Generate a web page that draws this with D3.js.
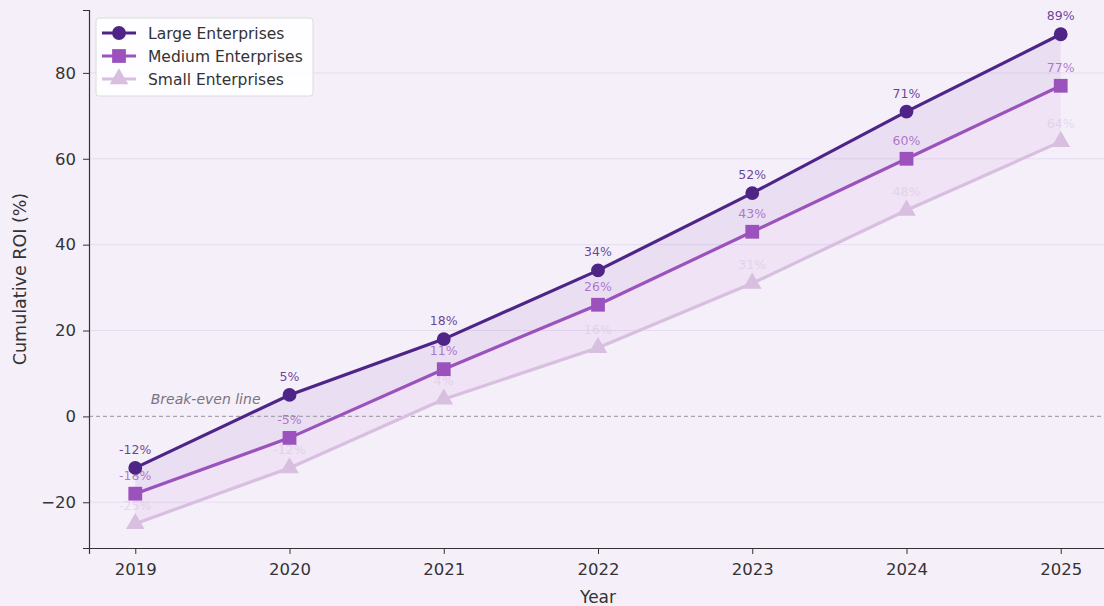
<!DOCTYPE html>
<html>
<head>
<meta charset="utf-8">
<script src="https://cdn.jsdelivr.net/npm/d3@7"></script>
<style>
  body { margin: 0; background: #f5effa; }
  svg { display: block; font-family: "DejaVu Sans", sans-serif; }
</style>
</head>
<body>
<div id="chart"></div>
<script>
// data
var years = [2019, 2020, 2021, 2022, 2023, 2024, 2025];
var large = [-12, 5, 18, 34, 52, 71, 89];
var medium = [-18, -5, 11, 26, 43, 60, 77];
var small = [-25, -12, 4, 16, 31, 48, 64];
var seriesNames = ["Large Enterprises", "Medium Enterprises", "Small Enterprises"];
var yTicks = [-20, 0, 20, 40, 60, 80];

var w = 1104, h = 606;
var margin = {top: 10, right: -3, bottom: 58, left: 89};
var innerWidth = w - margin.left - margin.right;
var innerHeight = h - margin.top - margin.bottom;

var svg = d3.select("#chart").append("svg")
  .attr("width", w)
  .attr("height", h);

svg.append("rect")
  .attr("width", w).attr("height", h)
  .attr("fill", "#f5effa");

var xScale = d3.scaleLinear()
  .domain([2018.7, 2025.3])
  .range([0, innerWidth]);

var yScale = d3.scaleLinear()
  .domain([-30.65, 94.65])
  .range([innerHeight, 0]);

var g = svg.append("g")
  .attr("transform", `translate(${margin.left}, ${margin.top})`);

// horizontal grid
g.append("g").selectAll("line")
  .data(yTicks.filter(t => t != 0))
  .enter().append("line")
  .attr("x1", 0).attr("x2", innerWidth)
  .attr("y1", d => yScale(d)).attr("y2", d => yScale(d))
  .attr("stroke", "#e6dcef")
  .attr("stroke-width", 1);

var colors = ["#4e2587", "#9b52bd", "#d8bfe0"];
var series = [large, medium, small];

// shaded bands between series
var area = function(top, bottom) {
  return d3.area()
    .x((d, i) => xScale(years[i]))
    .y0((d, i) => yScale(bottom[i]))
    .y1((d, i) => yScale(top[i]))(top);
};
g.append("path").attr("d", area(large, medium))
  .attr("fill", "#7b4fb0").attr("fill-opacity", 0.1);
g.append("path").attr("d", area(medium, small))
  .attr("fill", "#b77fd0").attr("fill-opacity", 0.1);

// break-even line
g.append("line")
  .attr("x1", 0).attr("x2", innerWidth)
  .attr("y1", yScale(0)).attr("y2", yScale(0))
  .attr("stroke", "#a9a3ad")
  .attr("stroke-width", 1.2)
  .attr("stroke-dasharray", "4,3");
g.append("text")
  .attr("x", xScale(2019.1))
  .attr("y", yScale(0) - 12)
  .attr("font-size", 14)
  .attr("font-style", "italic")
  .attr("fill", "#7a7480")
  .text("Break-even line");

var line = d3.line()
  .x((d, i) => xScale(years[i]))
  .y(d => yScale(d));

var symbols = [d3.symbolCircle, d3.symbolSquare, d3.symbolTriangle];
var symSize = [150, 190, 150];
var labelOpacity = [0.85, 0.75, 0.5];

// draw small first so large is on top
[2, 1, 0].forEach(function(k) {
  var vals = series[k];
  g.append("path")
    .attr("d", line(vals))
    .attr("fill", "none")
    .attr("stroke", colors[k])
    .attr("stroke-width", 3.2);
  g.selectAll(".m" + k)
    .data(vals)
    .enter().append("path")
    .attr("class", "m" + k)
    .attr("d", d3.symbol().type(symbols[k]).size(symSize[k]))
    .attr("transform", (d, i) => `translate(${xScale(years[i])}, ${yScale(d)})`)
    .attr("fill", colors[k]);
  g.selectAll(".l" + k)
    .data(vals)
    .enter().append("text")
    .attr("class", "l" + k)
    .attr("x", (d, i) => xScale(years[i]))
    .attr("y", d => yScale(d) - 14)
    .attr("text-anchor", "middle")
    .attr("font-size", 12.5)
    .attr("fill", colors[k])
    .attr("fill-opacity", labelOpacity[k])
    .text(d => d + "%");
});

// axes
var xAxis = d3.axisBottom(xScale).tickValues(years).tickFormat(d3.format("d")).tickSizeOuter(0).tickSize(6).tickPadding(9);
var yAxis = d3.axisLeft(yScale).tickValues(yTicks).tickFormat(d => d < 0 ? "\u2212" + Math.abs(d) : d).tickSizeOuter(0).tickSize(6).tickPadding(7);

var gx = g.append("g")
  .attr("transform", `translate(0, ${innerHeight})`)
  .call(xAxis);
var gy = g.append("g").call(yAxis);
[gx, gy].forEach(function(ax) {
  ax.selectAll("text").attr("font-size", 16.5).attr("fill", "#333").attr("font-family", "DejaVu Sans");
  ax.selectAll("line").attr("stroke", "#333");
  ax.select(".domain").attr("stroke", "#333").attr("stroke-width", 1.2);
});

svg.append("text")
  .attr("x", margin.left + xScale(2022))
  .attr("y", h - 3)
  .attr("text-anchor", "middle")
  .attr("font-size", 17)
  .attr("fill", "#333")
  .text("Year");
svg.append("text")
  .attr("transform", `translate(26, ${margin.top + innerHeight / 2}) rotate(-90)`)
  .attr("text-anchor", "middle")
  .attr("font-size", 17.5)
  .attr("fill", "#333")
  .text("Cumulative ROI (%)");

// legend
var legend = svg.append("g").attr("transform", "translate(96, 18)");
legend.append("rect")
  .attr("width", 217).attr("height", 78)
  .attr("rx", 3)
  .attr("fill", "#ffffff").attr("fill-opacity", 0.85)
  .attr("stroke", "#dcdcdc");
seriesNames.forEach(function(name, k) {
  var y = 15 + k * 23;
  legend.append("line")
    .attr("x1", 6).attr("x2", 40)
    .attr("y1", y).attr("y2", y)
    .attr("stroke", colors[k]).attr("stroke-width", 3.2);
  legend.append("path")
    .attr("d", d3.symbol().type(symbols[k]).size(symSize[k]))
    .attr("transform", `translate(23, ${y})`)
    .attr("fill", colors[k]);
  legend.append("text")
    .attr("x", 52).attr("y", y + 5.5)
    .attr("font-size", 15.5)
    .attr("fill", "#333")
    .text(name);
});
</script>
</body>
</html>
